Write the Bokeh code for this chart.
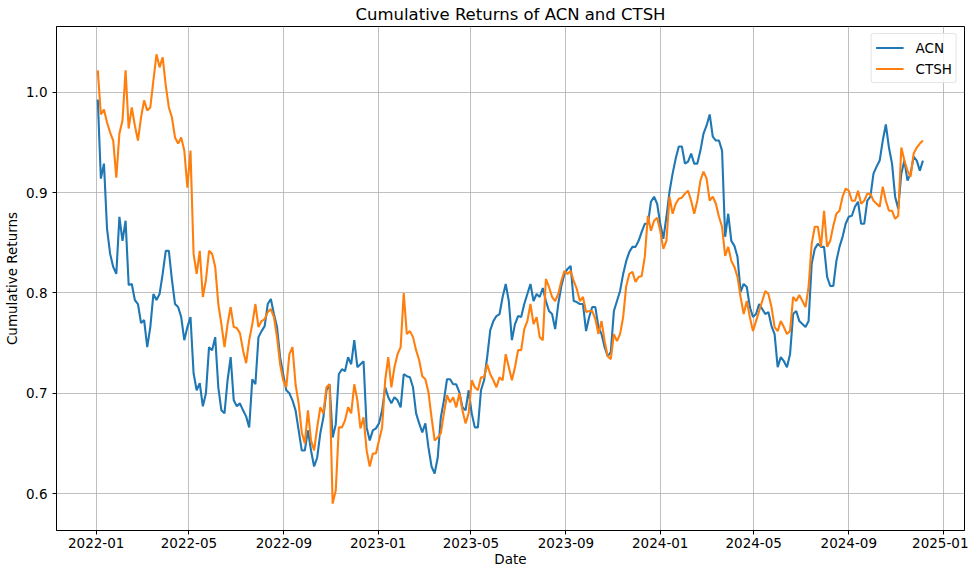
import pandas as pd
from bokeh.plotting import figure
from bokeh.models import (Range1d, FixedTicker, Legend,
                          DatetimeTickFormatter, NumeralTickFormatter)
from bokeh.embed import file_html
from bokeh.resources import INLINE

# Cumulative returns, sampled every 4 calendar days from 2022-01-03
acn = [0.993, 0.914, 0.929, 0.864, 0.839, 0.826, 0.819, 0.876, 0.852, 0.872,
       0.808, 0.809, 0.793, 0.789, 0.770, 0.773, 0.746, 0.766, 0.799, 0.793,
       0.799, 0.819, 0.842, 0.842, 0.813, 0.789, 0.786, 0.776, 0.753, 0.766,
       0.776, 0.720, 0.703, 0.710, 0.687, 0.700, 0.746, 0.743, 0.756, 0.706,
       0.683, 0.680, 0.713, 0.736, 0.693, 0.687, 0.690, 0.683, 0.677, 0.666,
       0.714, 0.709, 0.756, 0.762, 0.767, 0.789, 0.794, 0.779, 0.766, 0.736,
       0.719, 0.703, 0.700, 0.693, 0.683, 0.663, 0.643, 0.643, 0.663, 0.643,
       0.627, 0.636, 0.660, 0.676, 0.703, 0.709, 0.656, 0.669, 0.719, 0.724,
       0.722, 0.736, 0.729, 0.753, 0.726, 0.729, 0.732, 0.666, 0.653, 0.663,
       0.665, 0.670, 0.683, 0.706, 0.696, 0.690, 0.696, 0.693, 0.686, 0.719,
       0.717, 0.716, 0.706, 0.680, 0.670, 0.661, 0.670, 0.646, 0.627, 0.620,
       0.636, 0.676, 0.693, 0.714, 0.714, 0.709, 0.709, 0.701, 0.686, 0.683,
       0.703, 0.680, 0.666, 0.666, 0.703, 0.713, 0.736, 0.763, 0.772, 0.777,
       0.779, 0.796, 0.809, 0.792, 0.753, 0.769, 0.777, 0.776, 0.789, 0.799,
       0.809, 0.792, 0.799, 0.796, 0.805, 0.792, 0.782, 0.779, 0.764, 0.789,
       0.807, 0.819, 0.824, 0.827, 0.792, 0.791, 0.789, 0.789, 0.762, 0.776,
       0.786, 0.786, 0.766, 0.759, 0.746, 0.737, 0.741, 0.782, 0.792, 0.802,
       0.819, 0.832, 0.841, 0.846, 0.846, 0.852, 0.861, 0.869, 0.869, 0.891,
       0.896, 0.889, 0.869, 0.854, 0.876, 0.901, 0.919, 0.934, 0.946, 0.946,
       0.929, 0.931, 0.939, 0.929, 0.929, 0.942, 0.959, 0.967, 0.978, 0.956,
       0.952, 0.952, 0.942, 0.856, 0.879, 0.852, 0.847, 0.836, 0.801, 0.809,
       0.806, 0.786, 0.776, 0.779, 0.789, 0.784, 0.779, 0.781, 0.767, 0.759,
       0.726, 0.736, 0.732, 0.726, 0.739, 0.779, 0.782, 0.772, 0.769, 0.766,
       0.772, 0.829, 0.844, 0.849, 0.846, 0.846, 0.816, 0.807, 0.807, 0.832,
       0.846, 0.856, 0.869, 0.876, 0.877, 0.886, 0.891, 0.869, 0.869, 0.892,
       0.896, 0.919, 0.926, 0.932, 0.952, 0.968, 0.945, 0.929, 0.896, 0.884,
       0.919, 0.932, 0.912, 0.919, 0.936, 0.932, 0.922, 0.932]

ctsh = [1.022, 0.978, 0.983, 0.970, 0.960, 0.952, 0.915, 0.959, 0.972, 1.022,
        0.964, 0.985, 0.967, 0.952, 0.975, 0.992, 0.982, 0.985, 1.012, 1.038,
        1.025, 1.035, 1.007, 0.985, 0.975, 0.955, 0.949, 0.955, 0.942, 0.905,
        0.942, 0.839, 0.819, 0.842, 0.796, 0.813, 0.842, 0.839, 0.826, 0.789,
        0.769, 0.746, 0.769, 0.786, 0.766, 0.765, 0.760, 0.743, 0.730, 0.753,
        0.769, 0.789, 0.766, 0.772, 0.774, 0.781, 0.784, 0.776, 0.756, 0.729,
        0.713, 0.706, 0.739, 0.746, 0.709, 0.690, 0.661, 0.650, 0.683, 0.653,
        0.643, 0.666, 0.686, 0.680, 0.706, 0.709, 0.590, 0.603, 0.666, 0.666,
        0.673, 0.686, 0.680, 0.709, 0.693, 0.665, 0.676, 0.643, 0.627, 0.640,
        0.640, 0.653, 0.666, 0.713, 0.736, 0.706, 0.726, 0.739, 0.746, 0.800,
        0.759, 0.762, 0.756, 0.743, 0.733, 0.717, 0.714, 0.701, 0.676, 0.653,
        0.656, 0.660, 0.680, 0.698, 0.691, 0.696, 0.686, 0.700, 0.683, 0.670,
        0.680, 0.713, 0.706, 0.703, 0.716, 0.716, 0.729, 0.719, 0.713, 0.706,
        0.716, 0.713, 0.739, 0.726, 0.713, 0.726, 0.743, 0.743, 0.764, 0.772,
        0.789, 0.769, 0.776, 0.756, 0.753, 0.814, 0.806, 0.796, 0.792, 0.799,
        0.812, 0.822, 0.819, 0.822, 0.812, 0.804, 0.792, 0.796, 0.781, 0.782,
        0.782, 0.774, 0.759, 0.772, 0.752, 0.737, 0.734, 0.759, 0.752, 0.759,
        0.776, 0.807, 0.819, 0.821, 0.811, 0.816, 0.817, 0.836, 0.877, 0.862,
        0.872, 0.875, 0.862, 0.844, 0.852, 0.896, 0.879, 0.889, 0.894, 0.895,
        0.899, 0.902, 0.892, 0.879, 0.892, 0.912, 0.921, 0.914, 0.892, 0.896,
        0.889, 0.876, 0.866, 0.837, 0.846, 0.832, 0.826, 0.816, 0.796, 0.779,
        0.792, 0.776, 0.762, 0.772, 0.782, 0.792, 0.802, 0.799, 0.786, 0.766,
        0.762, 0.772, 0.766, 0.759, 0.762, 0.796, 0.792, 0.798, 0.792, 0.786,
        0.806, 0.849, 0.866, 0.866, 0.846, 0.882, 0.846, 0.852, 0.867, 0.879,
        0.882, 0.896, 0.904, 0.902, 0.892, 0.892, 0.902, 0.889, 0.892, 0.899,
        0.899, 0.892, 0.889, 0.886, 0.906, 0.892, 0.882, 0.882, 0.874, 0.877,
        0.945, 0.932, 0.922, 0.916, 0.939, 0.945, 0.949, 0.952]

start_date = "2022-01-03"
tick_dates = ["2022-01-01", "2022-05-01", "2022-09-01", "2023-01-01",
              "2023-05-01", "2023-09-01", "2024-01-01", "2024-05-01",
              "2024-09-01", "2025-01-01"]
y_ticks = [0.6, 0.7, 0.8, 0.9, 1.0]

acn_dates = pd.date_range(start_date, periods=len(acn), freq="4D")
ctsh_dates = pd.date_range(start_date, periods=len(ctsh), freq="4D")

def ms(d):
    return pd.Timestamp(d).value // 10**6

FONT = "DejaVu Sans"
TICK_SIZE = "13.5px"

p = figure(width=968, height=569, x_axis_type="datetime",
           output_backend="svg", toolbar_location=None,
           x_range=Range1d(ms("2021-11-10 14:00"), ms("2025-01-28 19:00")),
           y_range=Range1d(0.5632, 1.0657),
           title="Cumulative Returns of ACN and CTSH",
           min_border_left=56, min_border_right=4,
           min_border_top=25, min_border_bottom=39)

p.line(x=acn_dates, y=acn, line_color="#1f77b4", line_width=2.1, legend_label="ACN")
p.line(x=ctsh_dates, y=ctsh, line_color="#ff7f0e", line_width=2.1, legend_label="CTSH")

p.xaxis.ticker = FixedTicker(ticks=[ms(d) for d in tick_dates])
fmt = "%Y-%m"
p.xaxis.formatter = DatetimeTickFormatter(
    microseconds=fmt, milliseconds=fmt, seconds=fmt, minsec=fmt, minutes=fmt,
    hourmin=fmt, hours=fmt, days=fmt, months=fmt, years=fmt)
p.yaxis.ticker = FixedTicker(ticks=y_ticks)
p.yaxis.formatter = NumeralTickFormatter(format="0.0")

p.xaxis.axis_label = "Date"
p.yaxis.axis_label = "Cumulative Returns"

for ax in (p.xaxis, p.yaxis):
    ax.axis_label_text_font = FONT
    ax.axis_label_text_font_size = TICK_SIZE
    ax.axis_label_text_font_style = "normal"
    ax.axis_label_text_color = "black"
    ax.major_label_text_font = FONT
    ax.major_label_text_font_size = TICK_SIZE
    ax.major_label_text_color = "black"
    ax.minor_tick_line_color = None
    ax.major_tick_in = 0
    ax.major_tick_out = 4
    ax.major_tick_line_color = "black"
    ax.axis_line_color = "black"

p.yaxis.major_label_standoff = 5
p.yaxis.axis_label_standoff = 3
p.xaxis.major_label_standoff = 3
p.xaxis.axis_label_standoff = 0

p.grid.grid_line_color = "#b0b0b0"
p.grid.grid_line_width = 0.8
p.outline_line_color = "black"
p.outline_line_width = 1
p.outline_line_alpha = 1

p.title.text_font = FONT
p.title.text_font_size = "16.5px"
p.title.text_font_style = "normal"
p.title.text_color = "black"
p.title.align = "center"
p.title.standoff = 5

leg = p.legend[0]
leg.location = "top_right"
leg.margin = 7
leg.padding = 4
leg.spacing = 2
leg.glyph_width = 28
leg.glyph_height = 19
leg.label_standoff = 12
leg.label_text_font = FONT
leg.label_text_font_size = TICK_SIZE
leg.label_text_color = "black"
leg.border_line_color = "#cccccc"
leg.border_line_width = 1
leg.background_fill_alpha = 0.8
if "border_radius" in Legend.properties():
    leg.border_radius = 3

open("out.html", "w").write(file_html(p, INLINE))
